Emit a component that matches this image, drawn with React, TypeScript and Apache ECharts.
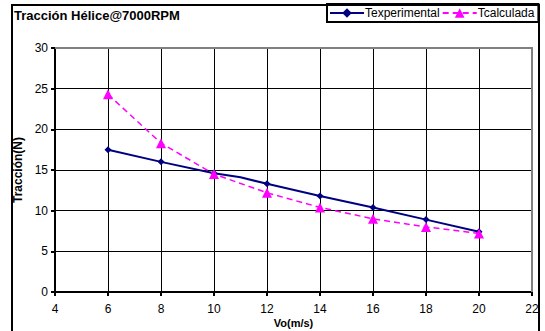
import React, { useEffect, useRef } from "react";
import * as echarts from "echarts";

const xExp = [6, 8, 10, 11, 12, 14, 16, 18, 20];
const yExp = [17.5, 16.0, 14.6, 14.1, 13.3, 11.8, 10.4, 8.9, 7.4];
const markerExp = [true, true, true, false, true, true, true, true, true];
const xCalc = [6, 8, 10, 12, 14, 16, 18, 20];
const yCalc = [24.3, 18.3, 14.5, 12.2, 10.4, 9.0, 8.0, 7.2];

const titleText = "Tracción Hélice@7000RPM";
const seriesNames = ["Texperimental", "Tcalculada"];
const xName = "Vo(m/s)";
const yName = "Tracción(N)";

const GRID = { left: 55, right: 13, top: 48, bottom: 39 };
const W = 545;
const H = 331;

export default function App() {
  const ref = useRef<HTMLDivElement>(null);
  useEffect(() => {
    if (!ref.current) return;
    const chart = echarts.init(ref.current, null, { renderer: "svg" });
    const font = "Liberation Sans, Arial, sans-serif";
    chart.setOption({
      animation: false,
      textStyle: { fontFamily: font },
      title: {
        text: titleText,
        left: 14,
        top: 9,
        padding: 0,
        textStyle: { fontSize: 13, fontWeight: "bold", color: "#000", fontFamily: font },
      },
      legend: {
        left: 327,
        top: 4,
        padding: [3, 4, 3, 2],
        itemWidth: 34,
        itemHeight: 12,
        itemGap: 2,
        borderColor: "#000",
        borderWidth: 2,
        backgroundColor: "#fff",
        textStyle: { fontSize: 12, color: "#000", fontFamily: font, padding: [0, 0, 0, -4] },
        data: seriesNames,
      },
      grid: {
        ...GRID,
        outerBoundsMode: "none",
        containLabel: false,
        show: false,
      },
      xAxis: {
        type: "value",
        min: 4,
        max: 22,
        interval: 2,
        position: "bottom",
        name: xName,
        nameLocation: "middle",
        nameGap: 25,
        nameMoveOverlap: false,
        nameTextStyle: { fontSize: 11, fontWeight: "bold", color: "#000", fontFamily: font, lineHeight: 12 },
        axisLine: { show: true, onZero: false, lineStyle: { color: "#000", width: 2 } },
        axisTick: { show: true, length: 4, lineStyle: { color: "#000", width: 2 } },
        axisLabel: { fontSize: 12, color: "#000", margin: 11, fontFamily: font },
        splitLine: { show: true, lineStyle: { color: "#000", width: 1, type: "solid" } },
      },
      yAxis: {
        type: "value",
        min: 0,
        max: 30,
        interval: 5,
        position: "left",
        name: yName,
        nameLocation: "middle",
        nameGap: 25,
        nameTextStyle: { fontSize: 12, fontWeight: "bold", color: "#000", fontFamily: font },
        axisLine: { show: true, lineStyle: { color: "#000", width: 2 } },
        axisTick: { show: true, length: 4, lineStyle: { color: "#000", width: 2 } },
        axisLabel: { fontSize: 12, color: "#000", margin: 7, fontFamily: font },
        splitLine: { show: true, lineStyle: { color: "#000", width: 1, type: "solid" } },
      },
      series: [
        {
          name: seriesNames[0],
          type: "line",
          data: xExp.map((x, i) =>
            markerExp[i] ? [x, yExp[i]] : { value: [x, yExp[i]], symbol: "none" }
          ),
          symbol: "diamond",
          symbolSize: 7,
          itemStyle: { color: "#000080" },
          lineStyle: { color: "#000080", width: 2 },
          z: 3,
        },
        {
          name: seriesNames[1],
          type: "line",
          data: xCalc.map((x, i) => [x, yCalc[i]]),
          symbol: "triangle",
          symbolSize: 10,
          itemStyle: { color: "#FF00FF" },
          lineStyle: { color: "#FF00FF", width: 1.5, type: [6, 4] },
          z: 4,
        },
      ],
    });
    const tl = chart.convertToPixel({ gridIndex: 0 }, [4, 30]) as number[];
    const br = chart.convertToPixel({ gridIndex: 0 }, [22, 0]) as number[];
    chart.setOption({
      graphic: [
        {
          type: "polyline",
          shape: { points: [[12, 345], [12, 5], [539, 5], [539, 345]] },
          style: { fill: null, stroke: "#000", lineWidth: 2 },
          silent: true,
          z: 50,
        },
        {
          type: "polyline",
          shape: { points: [[tl[0], tl[1]], [br[0], tl[1]], [br[0], br[1]]] },
          style: { fill: null, stroke: "#808080", lineWidth: 2 },
          silent: true,
          z: 50,
        },
      ],
    });
    return () => chart.dispose();
  }, []);
  return <div ref={ref} style={{ width: W, height: H, position: "absolute", left: 0, top: 0 }} />;
}
